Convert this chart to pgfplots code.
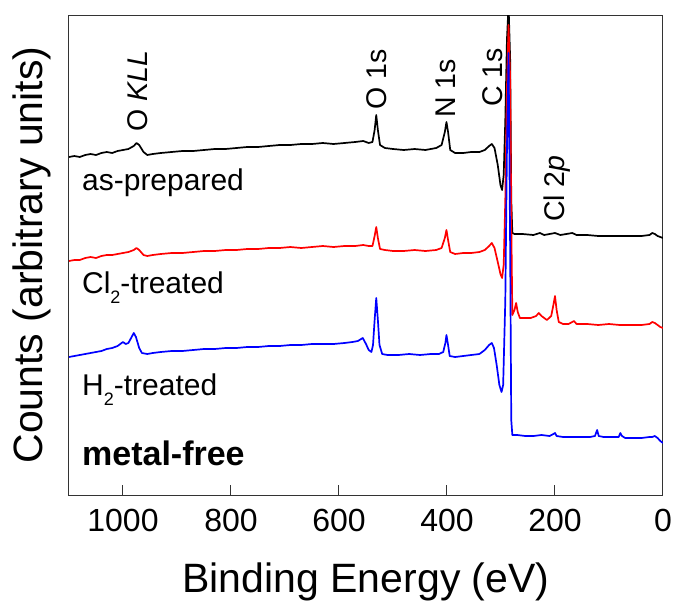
\documentclass[border=0pt]{standalone}
\usepackage{pgfplots}
\pgfplotsset{compat=1.18}
\usepackage{fontspec}
\setmainfont{Liberation Sans}

% y values are given as distance (pt) above the bottom of the axis frame
\newcommand{\sub}[1]{\raisebox{-10pt}{\fontsize{18}{18}\selectfont #1}}
\begin{document}
\begin{tikzpicture}
\useasboundingbox (-69pt,-111pt) rectangle (605pt,495pt);
\begin{axis}[
  scale only axis,
  width=594pt, height=480pt,
  at={(0pt,0pt)}, anchor=south west,
  xmin=0, xmax=1100, ymin=0, ymax=480,
  x dir=reverse,
  xtick={0,200,400,600,800,1000},
  ytick=\empty,
  tick align=inside,
  xtick pos=bottom,
  major tick length=10pt,
  axis line style={black!80, line width=1pt},
  tick style={black!80, line width=1pt},
  /pgf/number format/assume math mode=true,
  scaled x ticks=false,
  xticklabel style={font=\fontsize{32}{38}\selectfont, anchor=north, inner sep=0pt, yshift=-14pt, /pgf/number format/1000 sep={}},
  xlabel={Binding Energy (eV)},
  ylabel={Counts (arbitrary units)},
  xlabel style={font=\fontsize{41}{48}\selectfont, at={(axis description cs:0.5,-0.204)}, anchor=base, inner sep=0pt},
  ylabel style={font=\fontsize{41}{48}\selectfont, at={(axis description cs:-0.0623,0.5)}, anchor=center, rotate=0, inner sep=0pt},
  clip=true,
]
% as-prepared (black)
\addplot[black, line width=1.7pt, line join=round] table[x=E, y expr=495-\thisrow{p}] {
E p
1100 157
1090 156
1080 157
1070 155
1060 154
1050 155
1040 153
1030 152
1020 153
1010 151
1000 150
990 149
980 146
975 143
970 145
962 152
955 155
945 154
930 153
910 152
890 151
870 151
850 150
830 149
810 149
790 148
770 147
750 147
730 146
710 145
690 145
670 144
650 144
630 143
610 144
590 143
570 142
555 141
545 143
538 142
534 130
531 115
528 130
524 145
515 148
500 149
480 150
460 149
440 150
420 148
410 145
404 132
401 122
398 132
394 150
385 153
370 153
355 152
340 152
330 150
322 146
317 144
312 148
306 165
301 185
298 190
295 175
292 120
289 40
286 5
283 60
281 200
279 233
275 234
260 234
240 235
228 233
220 235
200 233
190 235
168 233
160 235
140 235
120 236
100 236
80 236
60 236
40 236
25 235
20 233
15 234
10 236
5 237
0 238
};
% Cl2-treated (red)
\addplot[red, line width=1.7pt, line join=round] table[x=E, y expr=495-\thisrow{p}] {
E p
1100 261
1090 260
1080 260
1070 258
1060 257
1050 258
1040 256
1030 255
1020 255
1010 254
1000 253
990 252
980 250
975 248
970 250
962 255
955 256
945 255
930 254
910 253
890 253
870 252
850 251
830 251
810 250
790 250
770 249
750 249
730 248
710 248
690 247
670 248
650 247
630 246
610 247
590 246
570 246
555 245
545 246
538 246
534 236
531 227
528 238
524 249
515 250
500 251
480 251
460 250
440 251
420 250
410 248
404 238
401 230
398 240
394 252
385 254
370 253
355 253
340 252
330 250
322 246
317 243
312 248
306 262
301 274
298 278
295 265
292 200
289 90
286 25
283 80
281 220
279 315
275 310
272 303
269 312
265 318
255 318
245 318
235 316
230 313
225 316
215 320
207 316
203 305
200 296
197 310
193 322
185 324
175 324
168 322
165 321
160 324
140 324
120 325
100 324
80 325
60 325
40 325
25 324
20 322
15 323
10 325
5 327
0 328
};
% H2-treated (blue)
\addplot[blue, line width=1.7pt, line join=round] table[x=E, y expr=495-\thisrow{p}] {
E p
1100 357
1090 356
1080 355
1070 354
1060 353
1050 352
1040 351
1030 349
1020 348
1010 346
1000 342
995 344
990 343
983 336
980 333
976 337
970 348
965 353
955 354
945 353
930 352
910 351
890 351
870 350
850 349
830 349
810 348
790 348
770 347
750 347
730 346
710 346
690 345
670 345
650 344
630 344
610 344
590 343
575 342
565 341
556 338
550 344
545 350
540 352
537 345
534 320
531 298
528 320
525 345
520 354
510 355
490 355
470 354
450 355
430 354
415 354
407 352
403 343
401 335
398 345
395 356
385 357
370 356
355 355
340 354
330 350
322 345
317 343
313 348
308 365
303 385
299 392
296 385
292 300
289 150
286 53
283 250
281 420
279 435
270 435
255 436
240 436
225 435
210 436
203 434
200 433
197 436
185 437
170 437
150 437
135 437
126 436
122 430
119 436
110 437
95 437
82 437
79 433
76 436
70 438
55 438
40 438
25 437
20 437
15 436
10 438
5 441
0 443
};
% peak labels
\begin{scope}[every node/.style={font=\fontsize{28.5}{34}\selectfont, rotate=90, anchor=west, inner sep=0pt}]
\node at (axis cs:972,363) {O \textit{KLL}};
\node at (axis cs:531,385) {O 1s};
\node at (axis cs:402,377) {N 1s};
\node at (axis cs:315,388) {C 1s};
\node at (axis cs:196,273) {Cl 2\textit{p}};
\end{scope}
% sample labels
\begin{scope}[every node/.style={font=\fontsize{30}{36}\selectfont, anchor=base west, inner sep=0pt}]
\node at (axis cs:1076,305) {as-prepared};
\node at (axis cs:1076,202) {Cl\sub{2}-treated};
\node at (axis cs:1076,100) {H\sub{2}-treated};
\node[font=\fontsize{34}{40}\selectfont\bfseries] at (axis cs:1076,30) {metal-free};
\end{scope}
\end{axis}
\end{tikzpicture}
\end{document}
